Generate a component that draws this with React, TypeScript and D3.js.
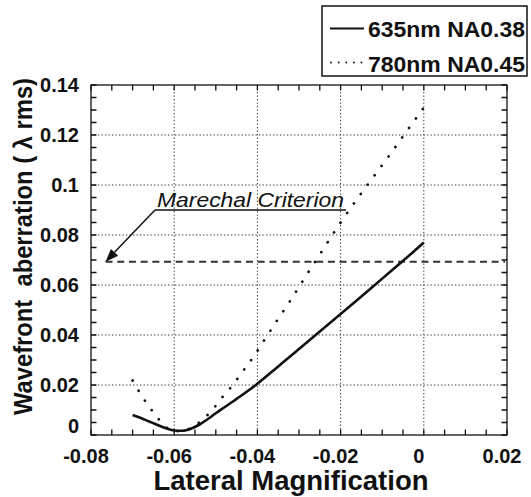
import React from "react";
import * as d3 from "d3";

const solidX = [-0.07, -0.068, -0.066, -0.064, -0.062, -0.06, -0.058, -0.056, -0.054, -0.052, -0.05, -0.048, -0.046, -0.044, -0.042, -0.04, -0.036, -0.032, -0.028, -0.024, -0.02, -0.016, -0.012, -0.008, -0.004, 0.0];
const solidY = [0.008, 0.0068, 0.0054, 0.004, 0.0027, 0.0018, 0.0017, 0.0025, 0.0041, 0.0063, 0.0087, 0.011, 0.0133, 0.0156, 0.018, 0.0205, 0.026, 0.0316, 0.0372, 0.0428, 0.0484, 0.054, 0.0597, 0.0654, 0.0711, 0.077];

const dotX = [-0.07, -0.068, -0.066, -0.064, -0.062, -0.06, -0.058, -0.056, -0.054, -0.052, -0.05, -0.048, -0.046, -0.044, -0.042, -0.04, -0.036, -0.032, -0.028, -0.024, -0.02, -0.016, -0.012, -0.008, -0.004, 0.0];
const dotY = [0.0218, 0.0162, 0.0113, 0.0069, 0.0032, 0.0015, 0.0015, 0.0028, 0.005, 0.008, 0.0117, 0.016, 0.0198, 0.0244, 0.0288, 0.0337, 0.044, 0.054, 0.0645, 0.0748, 0.085, 0.0945, 0.1035, 0.1125, 0.1218, 0.131];

const xTicks = [-0.08, -0.06, -0.04, -0.02, 0, 0.02];
const xTickLabels = ["-0.08", "-0.06", "-0.04", "-0.02", "0", "0.02"];
const yTicks = [0, 0.02, 0.04, 0.06, 0.08, 0.1, 0.12, 0.14];
const yTickLabels = ["0", "0.02", "0.04", "0.06", "0.08", "0.1", "0.12", "0.14"];
const seriesNames = ["635nm NA0.38", "780nm NA0.45"];
const criterionValue = 0.0693;
const criterionLabel = "Marechal Criterion";
const xTitle = "Lateral Magnification";
const yTitle = "Wavefront  aberration ( \u03bb rms)";

export default function App() {
  const x = d3.scaleLinear().domain([-0.08, 0.02]).range([91, 507]);
  const y = d3.scaleLinear().domain([0, 0.14]).range([435, 85]);
  const font = "'Liberation Sans', Arial, Helvetica, sans-serif";

  const line = d3
    .line<[number, number]>()
    .x((d) => x(d[0]))
    .y((d) => y(d[1]))
    .curve(d3.curveMonotoneX);

  const solidPath = line(solidX.map((v, i) => [v, solidY[i]]) as [number, number][]) || "";
  const dotPath = line(dotX.map((v, i) => [v, dotY[i]]) as [number, number][]) || "";

  const minorX = d3.range(0, 21).map((i) => -0.08 + i * 0.005);
  const minorY = d3.range(0, 29).map((i) => i * 0.005);
  const gridX = [-0.06, -0.04, -0.02, 0];
  const gridY = [0.02, 0.04, 0.06, 0.08, 0.1, 0.12];
  const [x0, x1] = x.range();
  const [y0, y1] = y.range();
  const tl = 5.5;

  const tipX = x(-0.0765);
  const tipY = y(criterionValue);
  const startX = 155;
  const startY = 210;
  const ang = Math.atan2(tipY - startY, tipX - startX);
  const ah = 13;
  const aw = 5;
  const bx = tipX - ah * Math.cos(ang);
  const by = tipY - ah * Math.sin(ang);
  const px = -Math.sin(ang) * aw;
  const py = Math.cos(ang) * aw;

  const tickPath =
    minorX.map((t) => `M${x(t).toFixed(2)},${y0}V${y0 - tl}M${x(t).toFixed(2)},${y1}V${y1 + tl}`).join("") +
    minorY.map((t) => `M${x0},${y(t).toFixed(2)}H${x0 + tl}M${x1},${y(t).toFixed(2)}H${x1 - tl}`).join("");

  return (
    <svg
      width={531}
      height={497}
      style={{ position: "absolute", left: 0, top: 0, background: "#fff" }}
      fontFamily={font}
    >
      <rect x={0} y={0} width={531} height={497} fill="#fff" />
      {/* grid */}
      {gridX.map((g) => (
        <line key={"gx" + g} x1={x(g)} x2={x(g)} y1={y1} y2={y0} stroke="#333" strokeWidth={1} strokeDasharray="1.3 2.2" />
      ))}
      {gridY.map((g) => (
        <line key={"gy" + g} x1={x0} x2={x1} y1={y(g)} y2={y(g)} stroke="#333" strokeWidth={1} strokeDasharray="1.3 2.2" />
      ))}
      {/* ticks */}
      <path d={tickPath} fill="none" stroke="#111" strokeWidth={1.3} />
      {/* frame */}
      <rect x={x0} y={y1} width={x1 - x0} height={y0 - y1} fill="none" stroke="#111" strokeWidth={1.3} />
      {/* criterion line */}
      <line x1={x(-0.0765)} x2={x1 - 2} y1={y(criterionValue)} y2={y(criterionValue)} stroke="#333" strokeWidth={2} strokeDasharray="7 4.7" />
      {/* curves */}
      <path d={dotPath} fill="none" stroke="#111" strokeWidth={2.7} strokeLinecap="round" strokeDasharray="0.1 11.6" />
      <path d={solidPath} fill="none" stroke="#111" strokeWidth={2.6} />
      {/* annotation */}
      <line x1={startX} y1={startY} x2={bx} y2={by} stroke="#111" strokeWidth={1.5} />
      <polygon points={`${tipX},${tipY} ${bx + px},${by + py} ${bx - px},${by - py}`} fill="#111" />
      <line x1={startX} y1={startY} x2={346} y2={startY} stroke="#111" strokeWidth={1.6} />
      <text x={157} y={206.5} fontSize={21} fontStyle="italic" fill="#111" textLength={187} lengthAdjust="spacingAndGlyphs">
        {criterionLabel}
      </text>
      {/* tick labels */}
      {xTicks.map((t, i) => (
        <text key={"xl" + i} x={x(t) - 5} y={463} fontSize={20} fontWeight="bold" textAnchor="middle" fill="#111">
          {xTickLabels[i]}
        </text>
      ))}
      {yTicks.map((t, i) => (
        <text key={"yl" + i} x={79} y={t === 0 ? 433 : y(t) + 7} fontSize={20} fontWeight="bold" textAnchor="end" fill="#111">
          {yTickLabels[i]}
        </text>
      ))}
      {/* axis titles */}
      <text x={291} y={490} fontSize={27.5} fontWeight="bold" textAnchor="middle" fill="#111">
        {xTitle}
      </text>
      <text
        transform="translate(32,246.5) rotate(-90)"
        fontSize={26}
        fontWeight="bold"
        textAnchor="middle"
        fill="#111"
        textLength={337}
        lengthAdjust="spacingAndGlyphs"
        style={{ whiteSpace: "pre" }}
      >
        {yTitle}
      </text>
      {/* legend */}
      <rect x={322} y={6} width={205} height={70} fill="#fff" stroke="#111" strokeWidth={1.5} />
      <line x1={330} x2={364} y1={28.5} y2={28.5} stroke="#111" strokeWidth={1.8} />
      <line x1={331} x2={364} y1={62.5} y2={62.5} stroke="#111" strokeWidth={1.8} strokeLinecap="round" strokeDasharray="0.1 7.5" />
      <text x={368} y={37} fontSize={22} fontWeight="bold" fill="#111" textLength={157} lengthAdjust="spacingAndGlyphs">
        {seriesNames[0]}
      </text>
      <text x={368} y={72} fontSize={22} fontWeight="bold" fill="#111" textLength={157} lengthAdjust="spacingAndGlyphs">
        {seriesNames[1]}
      </text>
    </svg>
  );
}
